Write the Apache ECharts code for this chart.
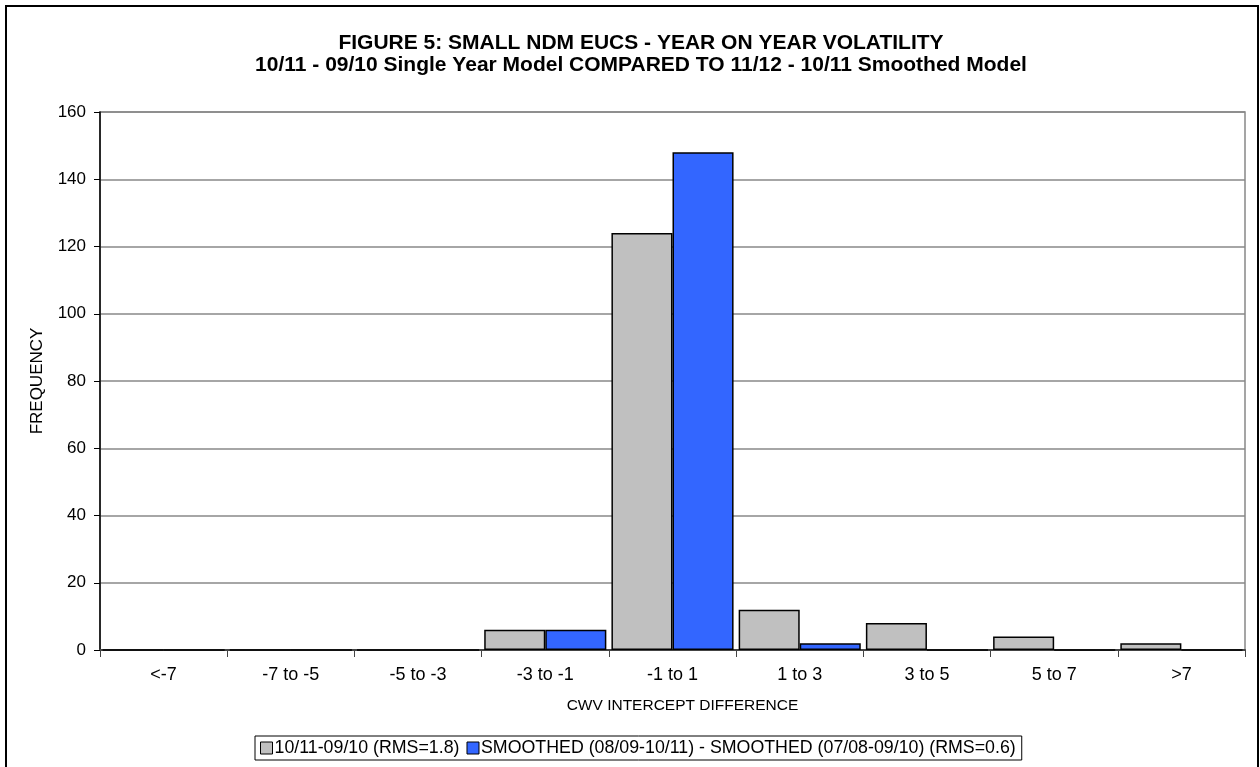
<!DOCTYPE html>
<html>
<head>
<meta charset="utf-8">
<script src="https://cdn.jsdelivr.net/npm/echarts@6/dist/echarts.min.js"></script>
<style>
  html, body { margin: 0; padding: 0; background: #fff; }
  #chart { width: 1260px; height: 767px; }
</style>
</head>
<body>
<div id="chart"></div>
<script>
// Frequency of CWV intercept differences per bin
const categories = ['<-7', '-7 to -5', '-5 to -3', '-3 to -1', '-1 to 1', '1 to 3', '3 to 5', '5 to 7', '>7'];
const singleYear = [0, 0, 0, 6, 124, 12, 8, 4, 2];
const smoothed = [0, 0, 0, 6, 148, 2, 0, 0, 0];
const seriesNames = ['10/11-09/10 (RMS=1.8)', 'SMOOTHED (08/09-10/11) - SMOOTHED (07/08-09/10) (RMS=0.6)'];
const yTicks = { min: 0, max: 160, interval: 20 };

const font = '"Liberation Sans", Arial, sans-serif';
const chart = echarts.init(document.getElementById('chart'), null, { renderer: 'canvas' });

chart.setOption({
  animation: false,
  backgroundColor: '#fff',
  textStyle: { fontFamily: font },
  title: {
    text: 'FIGURE 5: SMALL NDM EUCS - YEAR ON YEAR VOLATILITY\n10/11 - 09/10 Single Year Model COMPARED TO 11/12 - 10/11 Smoothed Model',
    left: 636,
    top: 27,
    textAlign: 'center',
    textStyle: { fontFamily: font, fontSize: 21, fontWeight: 'bold', color: '#000', lineHeight: 22 }
  },
  graphic: [{
    type: 'rect',
    shape: { x: 6, y: 6, width: 1252, height: 780 },
    style: { fill: 'none', stroke: '#000', lineWidth: 2 },
    z: 100
  }],
  legend: {
    bottom: 7,
    left: 255,
    padding: [3, 6, 3, 5],
    itemGap: 7,
    itemWidth: 12,
    itemHeight: 12,
    borderColor: '#000',
    borderWidth: 1,
    icon: 'rect',
    textStyle: { fontFamily: font, fontSize: 17.8, color: '#000', padding: [0, 0, 0, -3] },
    data: seriesNames.map(n => ({ name: n, itemStyle: { borderColor: '#000', borderWidth: 1 } }))
  },
  grid: {
    left: 100, right: 15, top: 112, bottom: 117,
    show: true, borderColor: '#888', borderWidth: 1.5, backgroundColor: '#fff',
    containLabel: false
  },
  xAxis: {
    type: 'category',
    data: categories,
    name: 'CWV INTERCEPT DIFFERENCE',
    nameLocation: 'middle',
    nameGap: 48,
    nameTextStyle: { fontFamily: font, fontSize: 15.5, color: '#000', padding: [0, 0, 0, 20] },
    axisLine: { lineStyle: { color: '#444', width: 2 } },
    axisTick: { show: true, alignWithLabel: false, length: 7, lineStyle: { color: '#444', width: 1 } },
    axisLabel: { fontFamily: font, fontSize: 18, color: '#000', margin: 16 }
  },
  yAxis: {
    type: 'value',
    min: yTicks.min, max: yTicks.max, interval: yTicks.interval,
    name: 'FREQUENCY',
    nameLocation: 'middle',
    nameGap: 54,
    nameTextStyle: { fontFamily: font, fontSize: 17, color: '#000' },
    axisLine: { show: true, lineStyle: { color: '#000', width: 1.5 } },
    axisTick: { show: true, length: 6, lineStyle: { color: '#000' } },
    axisLabel: { fontFamily: font, fontSize: 17, color: '#000', margin: 14 },
    splitLine: { lineStyle: { color: '#888', width: 1.5 } }
  },
  series: [
    {
      name: seriesNames[0],
      type: 'bar',
      data: singleYear,
      barGap: '0%',
      barCategoryGap: '4%',
      itemStyle: { color: '#c0c0c0', borderColor: '#000', borderWidth: 1.5 }
    },
    {
      name: seriesNames[1],
      type: 'bar',
      data: smoothed,
      itemStyle: { color: '#3366ff', borderColor: '#000', borderWidth: 1.5 }
    }
  ]
});
</script>
</body>
</html>
